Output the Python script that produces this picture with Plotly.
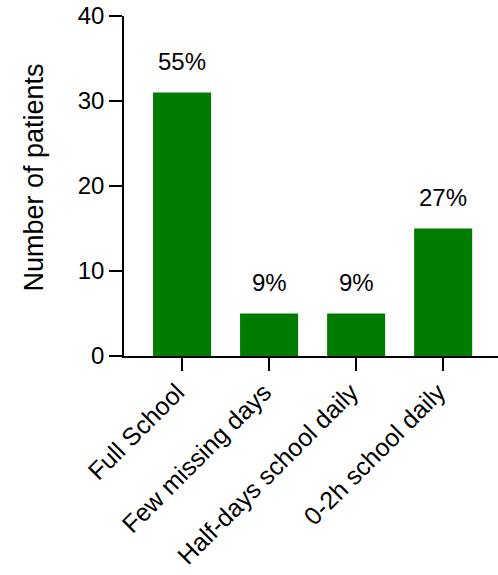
import plotly.graph_objects as go

categories = ["Full School", "Few missing days", "Half-days school daily", "0-2h school daily"]
patients = [31, 5, 5, 15]
percent_labels = ["55%", "9%", "9%", "27%"]
y_ticks = [0, 10, 20, 30, 40]

FONT = "Liberation Sans, Arial, sans-serif"

fig = go.Figure()
fig.add_trace(go.Bar(
    x=categories, y=patients,
    marker=dict(color="#007D00", line=dict(width=0)),
    width=0.667,
))

for c, v, t in zip(categories, patients, percent_labels):
    fig.add_annotation(x=c, y=v, text=t, showarrow=False, yanchor="bottom",
                       yshift=16, font=dict(family=FONT, size=24, color="black"))

fig.add_annotation(text="Number of patients", xref="paper", yref="paper",
                   x=-0.2433, y=0.525, showarrow=False, textangle=-90,
                   xanchor="center", yanchor="middle",
                   font=dict(family=FONT, size=27, color="black"))

fig.update_layout(
    width=498, height=575,
    margin=dict(l=124, r=0, t=16, b=219, autoexpand=False),
    plot_bgcolor="white", paper_bgcolor="white",
    showlegend=False,
    font=dict(family=FONT, size=24, color="black"),
)
fig.update_xaxes(
    range=[-0.667, 3.63], showline=True, linecolor="black", linewidth=1.5,
    ticks="outside", ticklen=13, tickwidth=1.5, tickcolor="black",
    tickangle=-45, tickfont=dict(family=FONT, size=25, color="black"),
    ticklabelshift=-5, ticklabelstandoff=-3,
    showgrid=False, zeroline=False,
)
fig.update_yaxes(
    range=[0, 40], tickvals=y_ticks, showline=True, linecolor="black", linewidth=1.5,
    ticks="outside", ticklen=13, tickwidth=1.5, tickcolor="black",
    tickfont=dict(family=FONT, size=24, color="black"),
    ticklabeloverflow="allow",
    showgrid=False, zeroline=False,
)

fig.write_html("out.html", config={"displayModeBar": False},
               post_script="document.body.style.margin='0';document.body.style.overflow='hidden';")
